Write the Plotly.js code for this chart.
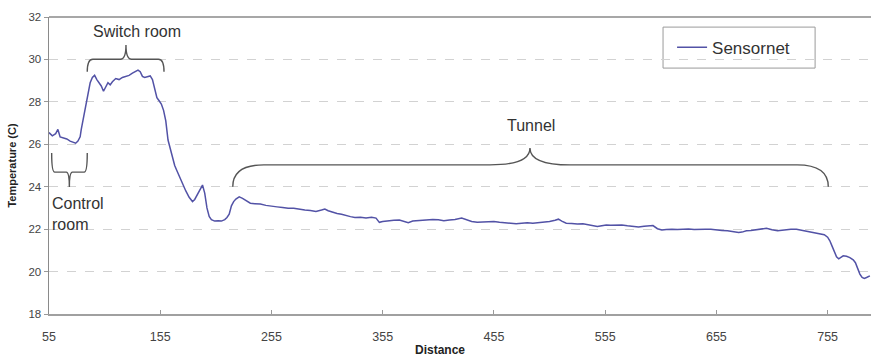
<!DOCTYPE html>
<html>
<head>
<meta charset="utf-8">
<script src="https://cdn.plot.ly/plotly-3.0.1.min.js"></script>
<style>html,body{margin:0;padding:0;background:#fff;}#chart{width:871px;height:356px;}</style>
</head>
<body>
<div id="chart"></div>
<script>
// ---- data ----
const seriesName = "Sensornet";
const distance = [55,58,61,63,65,68,71,74,77,79,81,83,84,86,88,90,92,94,96,98,100,102,104,106,108,110,112,115,118,121,124,127,130,133,135,137,139,141,144,146,148,150,152,154,156,158,160,162,164,166,168,170,172,175,178,181,184,186,188,190,192,193,195,197,199,201,204,207,210,213,215,217,219,221,223,226,229,232,236,240,245,250,255,260,265,270,275,280,285,290,295,300,303,306,310,314,318,322,326,330,335,340,345,349,352,355,360,365,370,375,378,382,386,390,395,400,405,410,415,420,426,430,435,440,445,450,455,460,465,470,475,480,485,490,495,500,505,510,513,516,520,525,530,535,540,545,548,552,556,560,565,570,575,580,585,590,595,598,602,606,610,615,620,625,630,635,640,645,650,655,660,665,670,675,678,682,686,690,695,700,705,710,714,718,722,727,732,736,740,744,748,752,755,757,759,761,763,765,767,769,772,775,778,780,782,784,786,788,790,793];
const temperature = [26.55,26.4,26.5,26.7,26.35,26.3,26.25,26.15,26.1,26.05,26.15,26.35,26.7,27.3,27.9,28.4,28.9,29.15,29.25,29.05,28.9,28.75,28.5,28.7,28.9,28.8,28.95,29.1,29.05,29.15,29.2,29.25,29.35,29.45,29.5,29.42,29.2,29.15,29.2,29.22,29.05,28.6,28.2,28.05,27.9,27.6,27.1,26.2,25.8,25.4,25.0,24.75,24.5,24.1,23.8,23.5,23.3,23.4,23.6,23.85,24.05,24.08,23.7,23.0,22.6,22.45,22.38,22.4,22.38,22.45,22.55,22.7,23.1,23.3,23.42,23.52,23.45,23.35,23.22,23.2,23.18,23.12,23.1,23.05,23.02,22.98,22.98,22.93,22.9,22.88,22.83,22.9,22.95,22.87,22.8,22.74,22.7,22.63,22.59,22.55,22.56,22.53,22.56,22.52,22.32,22.36,22.4,22.42,22.43,22.35,22.3,22.38,22.4,22.42,22.44,22.46,22.44,22.4,22.43,22.45,22.52,22.45,22.36,22.32,22.34,22.33,22.36,22.32,22.3,22.27,22.25,22.28,22.3,22.28,22.3,22.33,22.36,22.42,22.47,22.38,22.28,22.27,22.24,22.25,22.2,22.16,22.12,22.16,22.2,22.18,22.2,22.2,22.16,22.12,22.1,22.14,22.17,22.17,22.02,21.96,21.98,22.0,21.98,22.0,22.01,21.98,22.0,22.0,21.99,21.98,21.94,21.92,21.88,21.84,21.86,21.92,21.94,21.96,22.0,22.04,21.97,21.93,21.95,21.98,22.0,22.0,21.95,21.9,21.85,21.82,21.8,21.74,21.62,21.45,21.2,20.95,20.7,20.6,20.68,20.74,20.72,20.66,20.55,20.42,20.15,19.88,19.72,19.68,19.72,19.8];
const xTickVals = [55,155,255,355,455,555,655,755];
const yTickVals = [18,20,22,24,26,28,30,32];
const xTitle = "Distance";
const yTitle = "Temperature (C)";

// region labels and their braces (in data units)
const regionLabels = [
  {text: "Switch room", x: 134, y: 31.3, align: "center", xanchor: "center"},
  {text: "Tunnel", x: 488, y: 26.9, align: "center", xanchor: "center"},
  {text: "Control<br>room", x: 55.5, y: 22.7, align: "left", xanchor: "left"}
];
// brace: x0, x1 ends; xc pointer; yTip, yLine, yPeak; r corner radius; rc centre radius (x units)
const braces = [
  {x0: 89.4, x1: 158.4, xc: 124.2, yTip: 29.42, yLine: 30.01, yPeak: 30.68, r: 5, rc: 5, rv: 0.28},
  {x0: 220.2, x1: 755.6, xc: 487.4, yTip: 24.0, yLine: 25.03, yPeak: 25.83, r: 28, rc: 36, rv: 0.8},
  {x0: 57.4, x1: 89.4, xc: 73.3, yTip: 25.59, yLine: 24.69, yPeak: 23.99, r: 2.7, rc: 2.7, rv: 0.2}
];

function bracePath(b) {
  const s = Math.sign(b.yLine - b.yTip);
  return "M" + b.x0 + "," + b.yTip +
    " Q" + b.x0 + "," + b.yLine + " " + (b.x0 + b.r) + "," + b.yLine +
    " L" + (b.xc - b.rc) + "," + b.yLine +
    " Q" + b.xc + "," + b.yLine + " " + b.xc + "," + b.yPeak +
    " Q" + b.xc + "," + b.yLine + " " + (b.xc + b.rc) + "," + b.yLine +
    " L" + (b.x1 - b.r) + "," + b.yLine +
    " Q" + b.x1 + "," + b.yLine + " " + b.x1 + "," + b.yTip;
}

const textColor = "#333333";
const font = "Liberation Sans, Arial, sans-serif";

const shapes = braces.map(b => ({
  type: "path", xref: "x", yref: "y", path: bracePath(b),
  line: {color: "#555555", width: 1.4}
}));
// top frame line
shapes.push({type: "line", xref: "paper", yref: "paper", x0: 0, x1: 1, y0: 1, y1: 1,
  line: {color: "#8a8a8a", width: 1.5}});
// legend box
shapes.push({type: "rect", xref: "paper", yref: "paper", x0: 0.747, x1: 0.932, y0: 0.828, y1: 0.966,
  line: {color: "#9a9a9a", width: 1}, fillcolor: "rgba(255,255,255,1)", layer: "below"});

const annotations = regionLabels.map(l => ({
  text: l.text, x: l.x, y: l.y, xref: "x", yref: "y", showarrow: false,
  align: l.align, xanchor: l.xanchor, yanchor: "middle",
  font: {family: font, size: 16, color: textColor}
}));
annotations.push({text: "<b>" + xTitle + "</b>", xref: "paper", yref: "paper", x: 0.4757, y: -0.121,
  showarrow: false, xanchor: "center", yanchor: "middle",
  font: {family: font, size: 12, color: "#222"}});

const trace = {
  x: distance, y: temperature, type: "scatter", mode: "lines", name: seriesName,
  line: {color: "#5252a6", width: 1.5}
};

const layout = {
  width: 871, height: 356,
  margin: {l: 49, r: 0, t: 17, b: 42, pad: 0},
  paper_bgcolor: "#ffffff", plot_bgcolor: "#ffffff",
  showlegend: true,
  legend: {x: 0.758, y: 0.897, xanchor: "left", yanchor: "middle",
    bgcolor: "rgba(0,0,0,0)", borderwidth: 0,
    font: {family: font, size: 17, color: textColor}},
  xaxis: {
    range: [55, 794], tickvals: xTickVals, ticks: "inside", ticklen: 4, tickcolor: "#999",
    showline: true, linecolor: "#a0a0a0", linewidth: 2, showgrid: false, zeroline: false,
    ticklabelstandoff: 10,
    tickfont: {family: font, size: 12.5, color: "#444"}
  },
  yaxis: {
    range: [18, 32], tickvals: yTickVals, ticks: "outside", ticklen: 4, tickcolor: "#999",
    showline: true, linecolor: "#8a8a8a", linewidth: 1.5,
    showgrid: true, gridcolor: "#d2d2d2", griddash: "dash", gridwidth: 1, zeroline: false,
    tickfont: {family: font, size: 11.5, color: "#444"},
    title: {text: "<b>" + yTitle + "</b>", standoff: 9, font: {family: font, size: 11, color: "#222"}}
  },
  shapes: shapes,
  annotations: annotations
};

Plotly.newPlot("chart", [trace], layout, {staticPlot: true, displayModeBar: false});
</script>
</body>
</html>
